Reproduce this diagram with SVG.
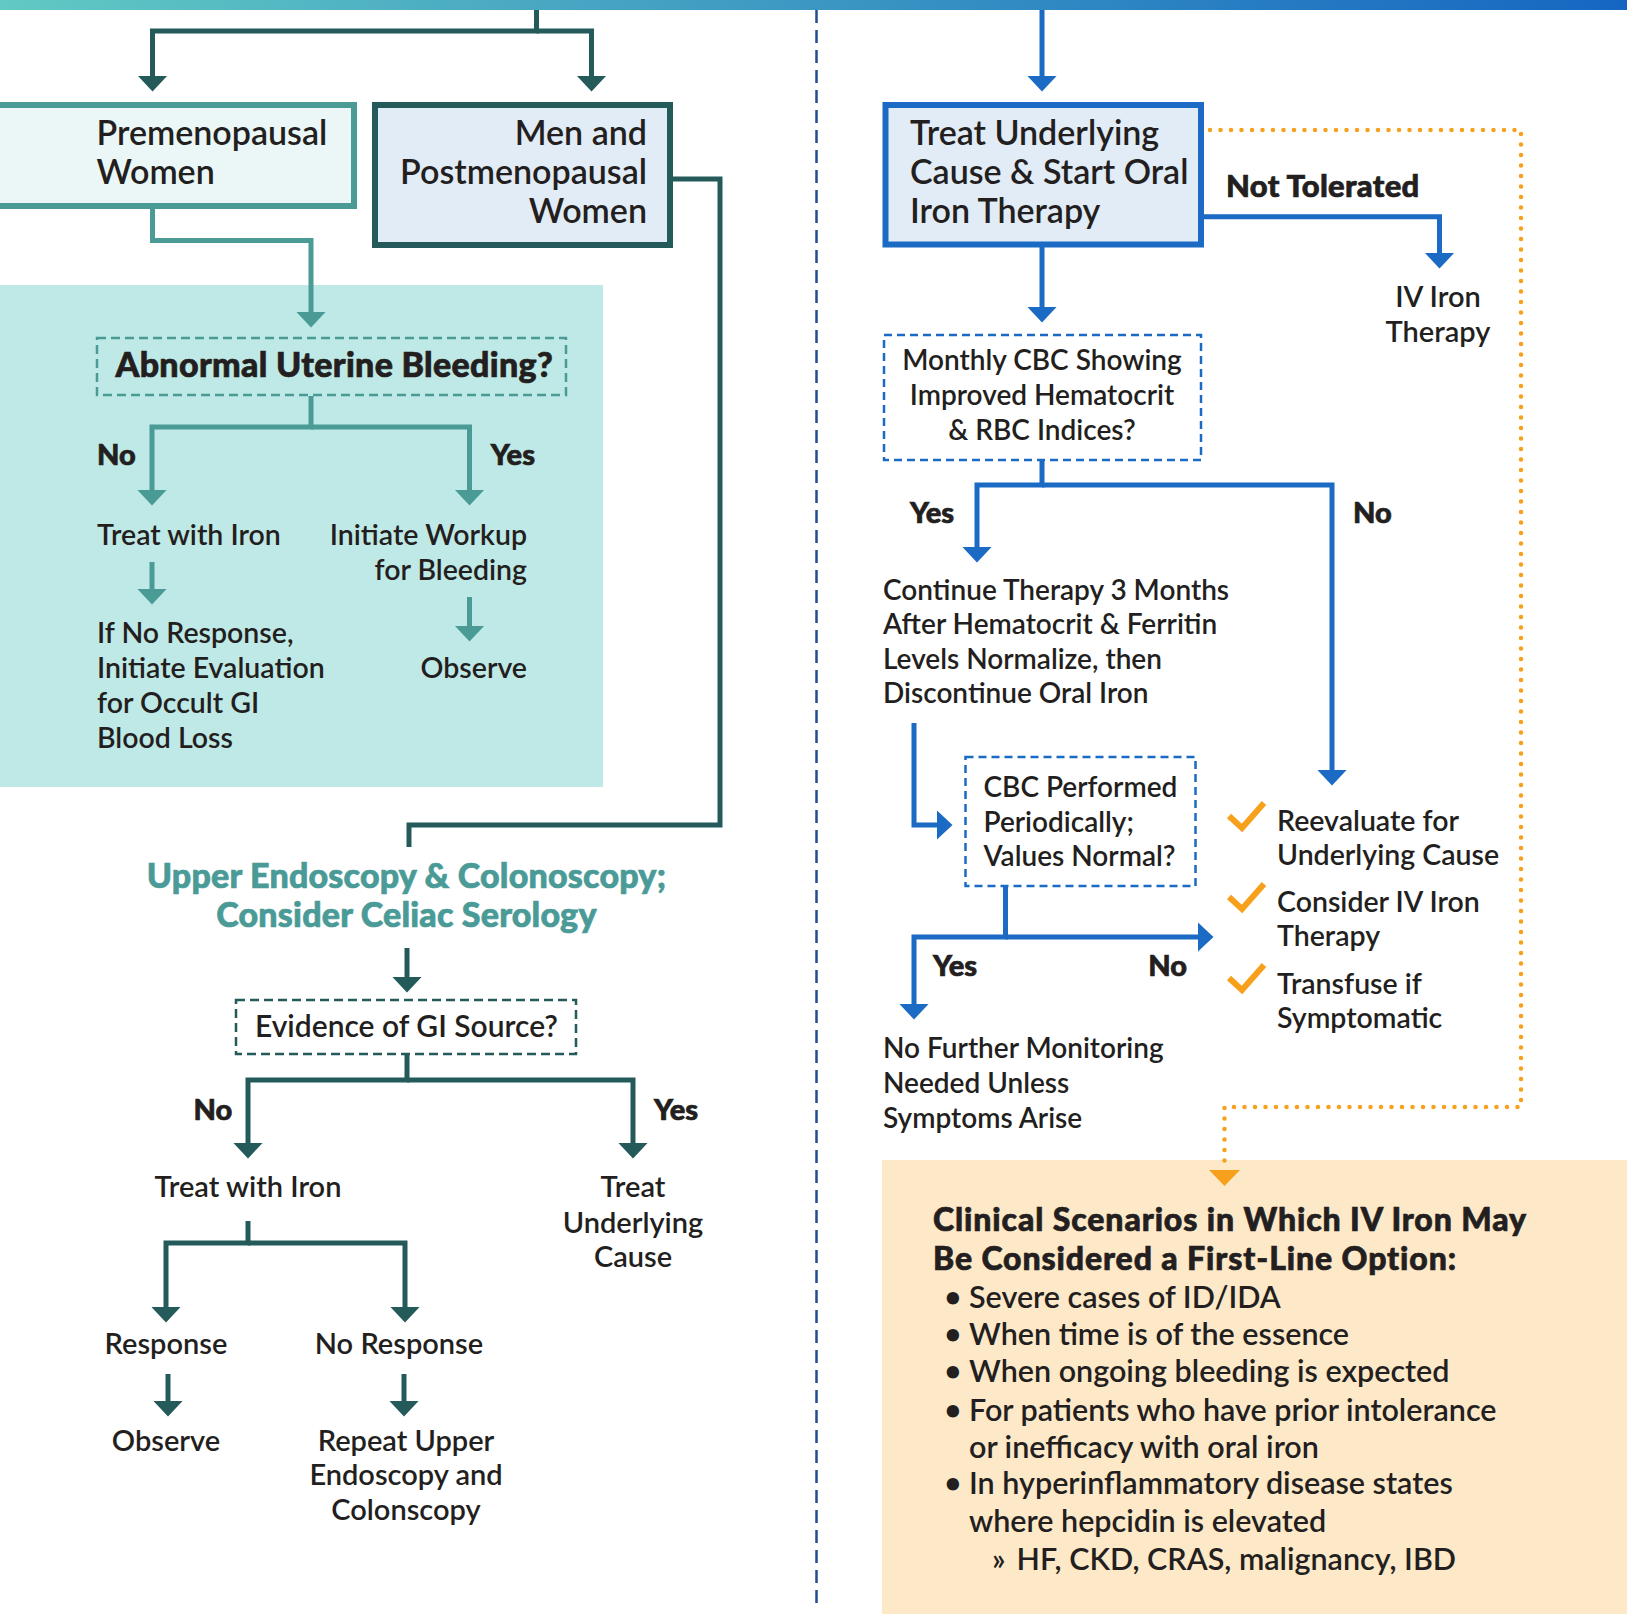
<svg xmlns="http://www.w3.org/2000/svg" width="1627" height="1614" viewBox="0 0 1627 1614">
<defs>
<linearGradient id="topbar" x1="0" y1="0" x2="1" y2="0">
<stop offset="0" stop-color="#62c9c3"/>
<stop offset="1" stop-color="#1566c2"/>
</linearGradient>
<marker id="aDark" markerUnits="userSpaceOnUse" viewBox="0 0 16 30" markerWidth="16" markerHeight="30" refX="0.5" refY="15" orient="auto"><path d="M0,0 L16,15 L0,30 Z" fill="#255a5a"/></marker>
<marker id="aTeal" markerUnits="userSpaceOnUse" viewBox="0 0 16 30" markerWidth="16" markerHeight="30" refX="0.5" refY="15" orient="auto"><path d="M0,0 L16,15 L0,30 Z" fill="#4a9a96"/></marker>
<marker id="aBlue" markerUnits="userSpaceOnUse" viewBox="0 0 16 30" markerWidth="16" markerHeight="30" refX="0.5" refY="15" orient="auto"><path d="M0,0 L16,15 L0,30 Z" fill="#1b6ac4"/></marker>
</defs>
<style>
.t{font-family:Lato,"Noto Sans","Liberation Sans",sans-serif;font-weight:600;fill:#231f20;font-size:29px}
.h{font-size:34px}
.s{font-size:28.5px}
.r{font-size:28px}
.p{font-size:30.5px}
.b{font-weight:900;stroke:#231f20;stroke-width:0.7px}
.tl{fill:#4a9b97;stroke:#4a9b97}
.m{text-anchor:middle}
.e{text-anchor:end}
.cd{fill:none;stroke:#255a5a;stroke-width:5}
.ct{fill:none;stroke:#4a9a96;stroke-width:5}
.cb{fill:none;stroke:#1b6ac4;stroke-width:5}
.co{fill:none;stroke:#f7a01c;stroke-width:4.5;stroke-linecap:round;stroke-dasharray:0 10.5}
.chk{fill:none;stroke:#f7a01c;stroke-width:6}
</style>
<rect x="0" y="0" width="1627" height="1614" fill="#ffffff"/>
<rect x="0" y="0" width="1627" height="10" fill="url(#topbar)"/>
<rect x="0" y="285" width="603" height="502" fill="#bfe9e6"/>
<rect x="882" y="1160" width="745" height="454" fill="#fde8c8"/>
<line x1="816.5" y1="10" x2="816.5" y2="1606" stroke="#1f4e8c" stroke-width="2.5" stroke-dasharray="13 7"/>

<g id="connectors">
<path class="cd" d="M536.5,10 V31 H152.5 V76" marker-end="url(#aDark)"/>
<path class="cd" d="M536.5,31 H591.5 V76" marker-end="url(#aDark)"/>
<path class="cd" d="M673,179 H720 V825 H409 V847"/>
<path class="cd" d="M407,948 V977" marker-end="url(#aDark)"/>
<path class="cd" d="M407,1055 V1080 H248 V1143" marker-end="url(#aDark)"/>
<path class="cd" d="M407,1080 H633 V1143" marker-end="url(#aDark)"/>
<path class="cd" d="M248,1221 V1243 H166 V1307" marker-end="url(#aDark)"/>
<path class="cd" d="M248,1243 H405 V1307" marker-end="url(#aDark)"/>
<path class="cd" d="M168,1374 V1401" marker-end="url(#aDark)"/>
<path class="cd" d="M404,1374 V1401" marker-end="url(#aDark)"/>
<path class="ct" d="M152.5,209 V240.5 H311 V312" marker-end="url(#aTeal)"/>
<path class="ct" d="M311,396 V427 H152 V490" marker-end="url(#aTeal)"/>
<path class="ct" d="M311,427 H469.5 V490" marker-end="url(#aTeal)"/>
<path class="ct" d="M152,562 V589" marker-end="url(#aTeal)"/>
<path class="ct" d="M469.5,597 V626" marker-end="url(#aTeal)"/>
<path class="cb" d="M1042,10 V76" marker-end="url(#aBlue)"/>
<path class="cb" d="M1042,247 V307" marker-end="url(#aBlue)"/>
<path class="cb" d="M1204,216.7 H1439.5 V253" marker-end="url(#aBlue)"/>
<path class="cb" d="M1042,461 V485 H977 V547" marker-end="url(#aBlue)"/>
<path class="cb" d="M1042,485 H1332 V770" marker-end="url(#aBlue)"/>
<path class="cb" d="M914,723 V825 H937" marker-end="url(#aBlue)"/>
<path class="cb" d="M1005.5,887 V937 H914 V1004" marker-end="url(#aBlue)"/>
<path class="cb" d="M1005.5,937 H1198" marker-end="url(#aBlue)"/>
<path class="co" d="M1210,130 H1521 V1107 H1224.5 V1165"/>
<path d="M1209,1170 L1240,1170 L1224.5,1186 Z" fill="#f7a01c"/>
</g>

<g id="premenopausal">
<rect x="-10" y="105" width="364" height="101" fill="#eaf7f6" stroke="#4a9a96" stroke-width="6"/>
<text class="t h" x="96.5" y="145">Premenopausal</text>
<text class="t h" x="96.5" y="184">Women</text>
</g>
<g id="men-postmenopausal">
<rect x="375" y="105" width="295" height="140" fill="#e2ecf6" stroke="#255a5a" stroke-width="6"/>
<text class="t h e" x="647" y="145">Men and</text>
<text class="t h e" x="647" y="184">Postmenopausal</text>
<text class="t h e" x="647" y="223">Women</text>
</g>
<g id="aub">
<rect x="97" y="338" width="469" height="57" fill="none" stroke="#4a9a96" stroke-width="2.5" stroke-dasharray="9 5"/>
<text class="t h b" x="115.5" y="377" style="letter-spacing:0.3px">Abnormal Uterine Bleeding?</text>
</g>
<g id="aub-labels">
<text class="t b" x="97" y="465">No</text>
<text class="t b e" x="535" y="465">Yes</text>
</g>
<g id="treat-iron-1"><text class="t s" x="97" y="545">Treat with Iron</text></g>
<g id="workup">
<text class="t s e" x="527" y="545">Initiate Workup</text>
<text class="t s e" x="527" y="580">for Bleeding</text>
</g>
<g id="no-response-eval">
<text class="t s" x="97" y="643">If No Response,</text>
<text class="t s" x="97" y="678">Initiate Evaluation</text>
<text class="t s" x="97" y="713">for Occult GI</text>
<text class="t s" x="97" y="748">Blood Loss</text>
</g>
<g id="observe-1"><text class="t s e" x="527" y="678">Observe</text></g>

<g id="endoscopy">
<text class="t h b m tl" x="406.5" y="888" style="letter-spacing:0.2px">Upper Endoscopy &amp; Colonoscopy;</text>
<text class="t h b m tl" x="406.5" y="926.5" style="letter-spacing:0.2px">Consider Celiac Serology</text>
</g>
<g id="gi-source">
<rect x="236" y="1000" width="340" height="54" fill="none" stroke="#255a5a" stroke-width="2.5" stroke-dasharray="9 5"/>
<text class="t" x="255" y="1037" style="font-size:30px">Evidence of GI Source?</text>
</g>
<g id="gi-labels">
<text class="t b" x="193.5" y="1120">No</text>
<text class="t b" x="654" y="1120">Yes</text>
</g>
<g id="treat-iron-2"><text class="t m" x="248" y="1197">Treat with Iron</text></g>
<g id="treat-cause">
<text class="t m" x="633" y="1197">Treat</text>
<text class="t m" x="633" y="1232.5">Underlying</text>
<text class="t m" x="633" y="1267">Cause</text>
</g>
<g id="response"><text class="t m" x="166" y="1354">Response</text></g>
<g id="no-response"><text class="t m" x="399" y="1354">No Response</text></g>
<g id="observe-2"><text class="t m" x="166" y="1451">Observe</text></g>
<g id="repeat">
<text class="t m" x="406" y="1451">Repeat Upper</text>
<text class="t m" x="406" y="1485">Endoscopy and</text>
<text class="t m" x="406" y="1519.5">Colonscopy</text>
</g>

<g id="treat-underlying">
<rect x="885.5" y="105" width="315.5" height="139.5" fill="#e1ecf7" stroke="#1b6ac4" stroke-width="6"/>
<text class="t h" x="910" y="145">Treat Underlying</text>
<text class="t h" x="910" y="184">Cause &amp; Start Oral</text>
<text class="t h" x="910" y="223">Iron Therapy</text>
</g>
<g id="not-tolerated"><text class="t b" x="1226" y="197" style="font-size:31px;letter-spacing:0.3px">Not Tolerated</text></g>
<g id="iv-iron">
<text class="t m" x="1438" y="307">IV Iron</text>
<text class="t m" x="1438" y="342">Therapy</text>
</g>
<g id="monthly-cbc">
<rect x="884" y="335" width="317" height="125" fill="none" stroke="#1b6ac4" stroke-width="2.5" stroke-dasharray="8 5"/>
<text class="t r m" x="1042" y="370">Monthly CBC Showing</text>
<text class="t r m" x="1042" y="405">Improved Hematocrit</text>
<text class="t r m" x="1042" y="439.5">&amp; RBC Indices?</text>
</g>
<g id="cbc-labels">
<text class="t b" x="910" y="522.5">Yes</text>
<text class="t b" x="1353" y="522.5">No</text>
</g>
<g id="continue-therapy">
<text class="t r" x="883" y="600">Continue Therapy 3 Months</text>
<text class="t r" x="883" y="634">After Hematocrit &amp; Ferritin</text>
<text class="t r" x="883" y="668.5">Levels Normalize, then</text>
<text class="t r" x="883" y="703">Discontinue Oral Iron</text>
</g>
<g id="cbc-periodic">
<rect x="965.5" y="757" width="230" height="129" fill="none" stroke="#1b6ac4" stroke-width="2.5" stroke-dasharray="8 5"/>
<text class="t r" x="983.5" y="797">CBC Performed</text>
<text class="t r" x="983.5" y="832">Periodically;</text>
<text class="t r" x="983.5" y="866">Values Normal?</text>
</g>
<g id="periodic-labels">
<text class="t b" x="933" y="976">Yes</text>
<text class="t b e" x="1187" y="976">No</text>
</g>
<g id="no-further">
<text class="t r" x="883" y="1058">No Further Monitoring</text>
<text class="t r" x="883" y="1093">Needed Unless</text>
<text class="t r" x="883" y="1128">Symptoms Arise</text>
</g>
<g id="reevaluate">
<polyline class="chk" points="1229,816 1242,828 1264,803"/>
<polyline class="chk" points="1229,897 1242,909 1264,884"/>
<polyline class="chk" points="1229,978 1242,990 1264,965"/>
<text class="t s" x="1277" y="830.5">Reevaluate for</text>
<text class="t s" x="1277" y="865">Underlying Cause</text>
<text class="t s" x="1277" y="912">Consider IV Iron</text>
<text class="t s" x="1277" y="946">Therapy</text>
<text class="t s" x="1277" y="993.5">Transfuse if</text>
<text class="t s" x="1277" y="1028">Symptomatic</text>
</g>
<g id="iv-first-line">
<text class="t b" x="933" y="1231" style="font-size:32px;letter-spacing:0.9px">Clinical Scenarios in Which IV Iron May</text>
<text class="t b" x="933" y="1270" style="font-size:32px;letter-spacing:0.9px">Be Considered a First-Line Option:</text>
<text class="t p" x="944" y="1308">•</text><text class="t p" x="969" y="1308">Severe cases of ID/IDA</text>
<text class="t p" x="944" y="1345">•</text><text class="t p" x="969" y="1345">When time is of the essence</text>
<text class="t p" x="944" y="1382">•</text><text class="t p" x="969" y="1382">When ongoing bleeding is expected</text>
<text class="t p" x="944" y="1421">•</text><text class="t p" x="969" y="1421">For patients who have prior intolerance</text>
<text class="t p" x="969" y="1458">or inefficacy with oral iron</text>
<text class="t p" x="944" y="1494">•</text><text class="t p" x="969" y="1494">In hyperinflammatory disease states</text>
<text class="t p" x="969" y="1532">where hepcidin is elevated</text>
<text class="t p" x="992" y="1570">»</text><text class="t p" x="1016.5" y="1570">HF, CKD, CRAS, malignancy, IBD</text>
</g>
</svg>
